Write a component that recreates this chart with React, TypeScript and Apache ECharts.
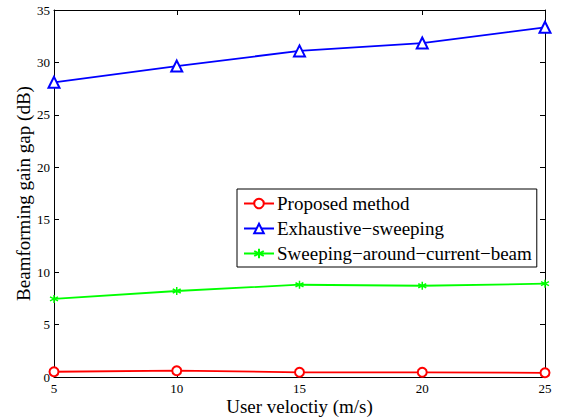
import React, { useEffect, useRef } from "react";
import * as echarts from "echarts";

const velocities = [5, 10, 15, 20, 25];
const proposed = [0.5, 0.6, 0.45, 0.45, 0.4];
const exhaustive = [28.1, 29.65, 31.1, 31.85, 33.35];
const sweepingAround = [7.45, 8.2, 8.8, 8.7, 8.9];
const seriesNames = [
  "Proposed method",
  "Exhaustive\u2212sweeping",
  "Sweeping\u2212around\u2212current\u2212beam",
];

const FONT = "'Liberation Serif', 'Times New Roman', serif";
const STAR = "path://M0,-5L0,5M-4.33,-2.5L4.33,2.5M-4.33,2.5L4.33,-2.5";

export default function App() {
  const ref = useRef<HTMLDivElement>(null);
  useEffect(() => {
    if (!ref.current) return;
    const chart = echarts.init(ref.current, null, { renderer: "svg" });
    const axisCommon = {
      type: "value" as const,
      axisLine: { show: true, onZero: false, lineStyle: { color: "#000", width: 1 } },
      axisTick: { show: true, inside: true, length: 5, lineStyle: { color: "#000" } },
      splitLine: { show: false },
    };
    chart.setOption({
      animation: false,
      backgroundColor: "#fff",
      grid: { left: 54, top: 10, right: 16, bottom: 41, containLabel: false, outerBoundsMode: "none" },
      xAxis: [
        {
          ...axisCommon,
          min: 5,
          max: 25,
          interval: 5,
          position: "bottom",
          name: "User veloctiy (m/s)",
          nameLocation: "middle",
          nameGap: 20,
          nameMoveOverlap: false,
          nameTextStyle: { fontFamily: FONT, fontSize: 19, color: "#000" },
          axisLabel: { fontFamily: FONT, fontSize: 13, color: "#000", margin: 5 },
        },
        {
          ...axisCommon,
          min: 5,
          max: 25,
          interval: 5,
          position: "top",
          axisLabel: { show: false },
        },
      ],
      yAxis: [
        {
          ...axisCommon,
          min: 0,
          max: 35,
          interval: 5,
          position: "left",
          name: "Beamforming gain gap (dB)",
          nameLocation: "middle",
          nameGap: 21,
          nameMoveOverlap: false,
          nameRotate: 90,
          nameTextStyle: { fontFamily: FONT, fontSize: 19, color: "#000" },
          axisLabel: { fontFamily: FONT, fontSize: 13, color: "#000", margin: 4 },
        },
        {
          ...axisCommon,
          min: 0,
          max: 35,
          interval: 5,
          position: "right",
          axisLabel: { show: false },
        },
      ],
      legend: {
        orient: "vertical",
        left: 237,
        top: 189,
        itemWidth: 30,
        itemHeight: 12,
        itemGap: 6,
        padding: [5, 5, 4, 6],
        borderColor: "#000",
        borderWidth: 1,
        backgroundColor: "#fff",
        textStyle: { fontFamily: FONT, fontSize: 19, color: "#000", padding: [0, 0, 0, -2] },
        data: seriesNames,
      },
      series: [
        {
          name: seriesNames[0],
          type: "line",
          data: velocities.map((v, i) => [v, proposed[i]]),
          symbol: "emptyCircle",
          symbolSize: 9,
          color: "#ff0000",
          lineStyle: { width: 1.8, color: "#ff0000" },
          itemStyle: { color: "#ff0000", borderColor: "#ff0000", borderWidth: 1.5 },
        },
        {
          name: seriesNames[1],
          type: "line",
          data: velocities.map((v, i) => [v, exhaustive[i]]),
          symbol: "emptyTriangle",
          symbolSize: 11,
          color: "#0000ff",
          lineStyle: { width: 1.8, color: "#0000ff" },
          itemStyle: { color: "#0000ff", borderColor: "#0000ff", borderWidth: 1.5 },
        },
        {
          name: seriesNames[2],
          type: "line",
          data: velocities.map((v, i) => [v, sweepingAround[i]]),
          symbol: STAR,
          symbolSize: 8,
          color: "#00ff00",
          lineStyle: { width: 1.8, color: "#00ff00" },
          itemStyle: { color: "#00ff00", borderColor: "#00ff00", borderWidth: 1.5 },
        },
      ],
    });
    return () => chart.dispose();
  }, []);
  return <div ref={ref} style={{ width: 561, height: 418, position: "absolute", left: 0, top: 0 }} />;
}
